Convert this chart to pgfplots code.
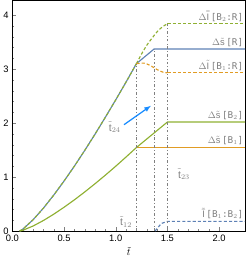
\documentclass[border=0pt]{standalone}
\usepackage{pgfplots}
\pgfplotsset{compat=1.18}
\usepackage{fontspec}
\setmainfont{Liberation Sans}
\newfontfamily\lblfont{DejaVu Sans Mono}
\definecolor{mblue}{rgb}{0.368,0.507,0.71}
\definecolor{morange}{rgb}{0.881,0.611,0.142}
\definecolor{mgreen}{rgb}{0.560,0.692,0.195}
\definecolor{mgray}{rgb}{0.5,0.5,0.5}
\definecolor{lgray}{rgb}{0.5,0.5,0.5}
\definecolor{arrowblue}{rgb}{0.1,0.55,1}
\begin{document}
\begin{tikzpicture}
\begin{axis}[
  scale only axis,
  width=224pt, height=222pt,
  xmin=0, xmax=2.25, ymin=0, ymax=4.27,
  xtick={0,0.5,1,1.5,2},
  xticklabels={0.0,0.5,1.0,1.5,2.0},
  ytick={0,1,2,3,4},
  minor x tick num=4, minor y tick num=4,
  tick align=inside,
  xtick pos=left, ytick pos=left,
  major tick length=4pt, minor tick length=2pt,
  axis line style={line width=0.9pt},
  ticklabel style={font=\fontsize{9}{10}\selectfont},
  /pgf/number format/assume math mode=true,
  xlabel={$\tilde{t}$},
  xlabel style={font=\fontsize{10}{11}\selectfont, yshift=-1pt, inner sep=1pt},
  clip=false,
]
\addplot[mblue, line width=1.1pt] coordinates {
(0.07,0) (0.1,0.033) (0.2,0.208) (0.3,0.423) (0.4,0.665) (0.5,0.926) (0.6,1.202) (0.7,1.493) (0.8,1.795) (0.9,2.109) (1.0,2.43) (1.1,2.76) (1.2,3.1) (1.37,3.37) (2.25,3.37)};
\addplot[mgreen, line width=1.1pt, dash pattern=on 3pt off 2pt] coordinates {
(0.07,0) (0.1,0.033) (0.2,0.208) (0.3,0.423) (0.4,0.665) (0.5,0.926) (0.6,1.202) (0.7,1.493) (0.8,1.795) (0.9,2.109) (1.0,2.43) (1.1,2.76) (1.2,3.1)};
\addplot[mgreen, line width=1.1pt, dash pattern=on 3pt off 2pt, smooth] coordinates {
(1.2,3.1) (1.25,3.28) (1.3,3.44) (1.35,3.57) (1.4,3.69) (1.45,3.78) (1.5,3.84)};
\addplot[mgreen, line width=1.1pt, dash pattern=on 3pt off 2pt] coordinates {(1.5,3.84) (2.25,3.84)};
\addplot[morange, line width=1.1pt, dash pattern=on 3pt off 2pt, smooth] coordinates {
(1.2,3.1) (1.27,3.11) (1.33,3.07) (1.4,2.99) (1.46,2.94) (1.5,2.93)};
\addplot[morange, line width=1.1pt, dash pattern=on 3pt off 2pt] coordinates {(1.5,2.93) (2.25,2.93)};
\addplot[morange, line width=1.1pt] coordinates {(1.2,1.547) (2.25,1.547)};
\addplot[mgreen, line width=1.1pt] coordinates {
(0.07,0) (0.1,0.014) (0.2,0.093) (0.3,0.195) (0.4,0.312) (0.5,0.441) (0.6,0.578) (0.7,0.724) (0.8,0.877) (0.9,1.036) (1.0,1.201) (1.1,1.372) (1.2,1.547) (1.5,2.02) (2.25,2.02)};
\addplot[mblue, line width=1.1pt, dash pattern=on 3pt off 2pt] coordinates {
(1.38,0) (1.44,0.14) (1.5,0.18) (2.25,0.18)};
\addplot[mgray, line width=0.8pt, dash pattern=on 2.5pt off 2pt on 0.8pt off 2pt] coordinates {(1.2,0) (1.2,3.1)};
\addplot[mgray, line width=0.8pt, dash pattern=on 2.5pt off 2pt on 0.8pt off 2pt] coordinates {(1.37,0) (1.37,3.37)};
\addplot[mgray, line width=0.8pt, dash pattern=on 2.5pt off 2pt on 0.8pt off 2pt] coordinates {(1.5,0) (1.5,3.84)};
\addplot[arrowblue, line width=1.2pt, -latex] coordinates {(1.08,1.97) (1.34,2.32)};
\node[lgray, anchor=south east, inner sep=1pt, font=\lblfont\fontsize{9}{10}\selectfont] at (axis cs:2.245,3.86) {$\Delta\bar{\bar{\mathrm{I}}}$\,[B$_2$:R]};
\node[lgray, anchor=south east, inner sep=1pt, font=\lblfont\fontsize{9}{10}\selectfont] at (axis cs:2.245,3.39) {$\Delta\tilde{\mathrm{s}}$\,[R]};
\node[lgray, anchor=south east, inner sep=1pt, font=\lblfont\fontsize{9}{10}\selectfont] at (axis cs:2.245,2.95) {$\Delta\tilde{\mathrm{I}}$\,[B$_1$:R]};
\node[lgray, anchor=south east, inner sep=1pt, font=\lblfont\fontsize{9}{10}\selectfont] at (axis cs:2.245,2.04) {$\Delta\tilde{\mathrm{s}}$\,[B$_2$]};
\node[lgray, anchor=south east, inner sep=1pt, font=\lblfont\fontsize{9}{10}\selectfont] at (axis cs:2.245,1.57) {$\Delta\tilde{\mathrm{s}}$\,[B$_1$]};
\node[lgray, anchor=south east, inner sep=1pt, font=\lblfont\fontsize{9}{10}\selectfont] at (axis cs:2.245,0.2) {$\tilde{\bar{\mathrm{I}}}$\,[B$_1$:B$_2$]};
\node[lgray, inner sep=1pt, font=\fontsize{10}{11}\selectfont] at (axis cs:0.99,1.92) {$\tilde{\mathrm{t}}_{24}$};
\node[lgray, inner sep=1pt, font=\fontsize{10}{11}\selectfont] at (axis cs:1.66,1.05) {$\tilde{\mathrm{t}}_{23}$};
\node[lgray, inner sep=1pt, font=\fontsize{10}{11}\selectfont] at (axis cs:1.1,0.17) {$\tilde{\mathrm{t}}_{12}$};
\end{axis}
\end{tikzpicture}
\end{document}
